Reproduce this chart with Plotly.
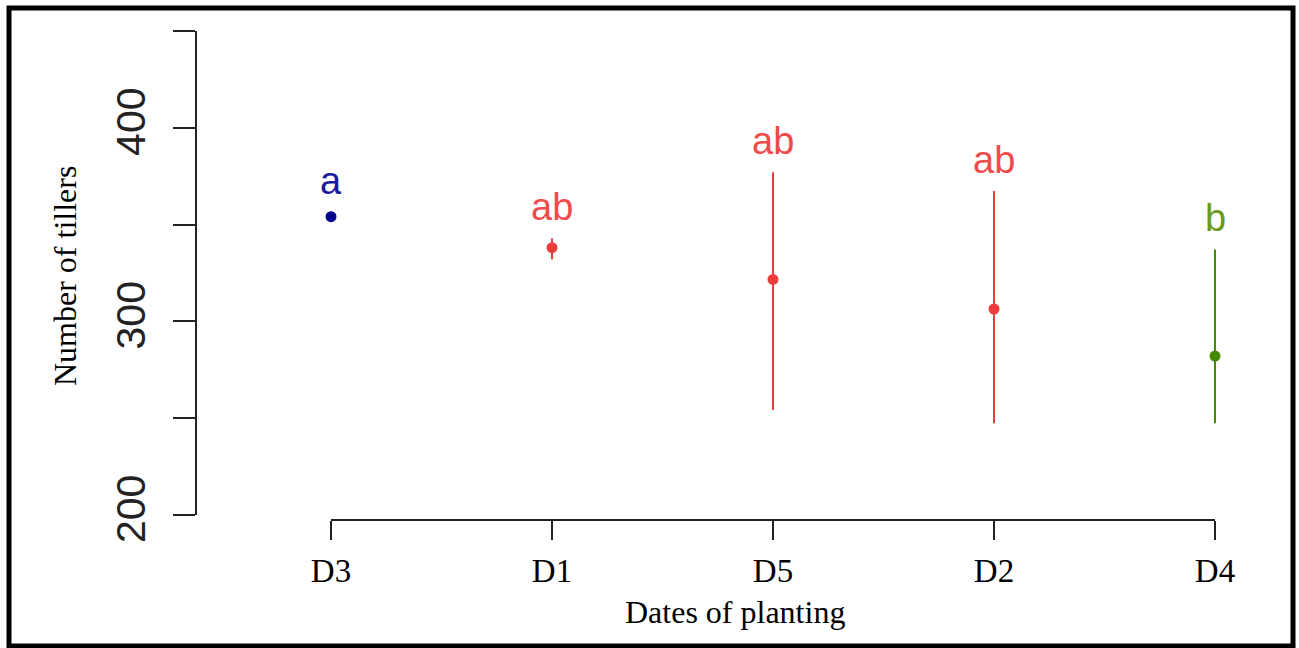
import plotly.graph_objects as go

# Planting dates, ordered by mean tiller count
dates = ["D3", "D1", "D5", "D2", "D4"]
means = [354.1, 338.1, 321.7, 306.4, 282.1]
upper = [356.6, 342.9, 377.0, 367.4, 337.2]
lower = [353.2, 332.1, 254.2, 247.4, 247.4]
groups = ["a", "ab", "ab", "ab", "b"]
colors = ["#00008B", "#EE3B3B", "#EE3B3B", "#EE3B3B", "#458B00"]
label_colors = ["#1A1AA0", "#F04A4A", "#F04A4A", "#F04A4A", "#6A9A1A"]

y_ticks = [200, 250, 300, 350, 400, 450]
y_ticktext = ["200", "", "300", "", "400", ""]

# Page geometry (pixels)
W, H = 1299, 648
ML, MR, MT, MB = 196, 29, 21, 128
PW, PH = W - ML - MR, H - MT - MB


def px(x):
    return (x - ML) / PW


def py(y):
    return (H - MB - y) / PH


fig = go.Figure()

for i, d in enumerate(dates):
    fig.add_trace(go.Scatter(
        x=[d], y=[means[i]],
        mode="markers",
        marker=dict(color=colors[i], size=11),
        error_y=dict(type="data", symmetric=False,
                     array=[upper[i] - means[i]],
                     arrayminus=[means[i] - lower[i]],
                     color=colors[i], thickness=2, width=0),
        showlegend=False,
        hoverinfo="skip",
    ))

annotations = []
for i, d in enumerate(dates):
    annotations.append(dict(
        x=d, y=upper[i] + 16, xref="x", yref="y",
        text=groups[i], showarrow=False,
        font=dict(family="Liberation Sans, Arial", size=38, color=label_colors[i]),
        xanchor="center", yanchor="middle",
    ))

serif = "Liberation Serif, Times New Roman, serif"
annotations.append(dict(
    x=px(65), y=py(276), xref="paper", yref="paper",
    text="Number of tillers", textangle=-90, showarrow=False,
    font=dict(family=serif, size=32, color="black"),
    xanchor="center", yanchor="middle",
))
annotations.append(dict(
    x=px(735), y=py(612), xref="paper", yref="paper",
    text="Dates of planting", showarrow=False,
    font=dict(family=serif, size=32, color="black"),
    xanchor="center", yanchor="middle",
))

shapes = [
    # y axis line spanning the tick range
    dict(type="line", xref="paper", yref="y", x0=0, x1=0,
         y0=y_ticks[0], y1=y_ticks[-1], line=dict(color="#222222", width=2)),
    # x axis line spanning the first to last category
    dict(type="line", xref="x", yref="paper", x0=dates[0], x1=dates[-1],
         y0=0, y1=0, line=dict(color="#222222", width=2)),
    # outer frame
    dict(type="rect", xref="paper", yref="paper",
         x0=px(9), x1=px(1293), y0=py(8), y1=py(646),
         line=dict(color="black", width=5), fillcolor="rgba(0,0,0,0)"),
]

y_lo = 200 - 5 / (96.8 / 50)
y_hi = y_lo + PH / (96.8 / 50)
cat = 221.0
x_lo = -(331 - ML) / cat
x_hi = x_lo + PW / cat

fig.update_layout(
    width=W, height=H,
    margin=dict(l=ML, r=MR, t=MT, b=MB, pad=0),
    paper_bgcolor="white", plot_bgcolor="white",
    annotations=annotations, shapes=shapes,
    xaxis=dict(
        type="category", categoryorder="array", categoryarray=dates,
        range=[x_lo, x_hi], showgrid=False, zeroline=False, showline=False,
        ticks="outside", ticklen=19, tickwidth=2, tickcolor="#222222",
        tickfont=dict(family=serif, size=33, color="black"),
        ticklabelstandoff=2,
    ),
    yaxis=dict(
        range=[y_lo, y_hi], showgrid=False, zeroline=False, showline=False,
        tickvals=y_ticks, ticktext=y_ticktext, tickangle=-90,
        ticks="outside", ticklen=22, tickwidth=2, tickcolor="#222222",
        tickfont=dict(family="Liberation Sans, Arial", size=41, color="#222222"),
        ticklabelstandoff=12,
    ),
)

fig.write_html("out.html")
